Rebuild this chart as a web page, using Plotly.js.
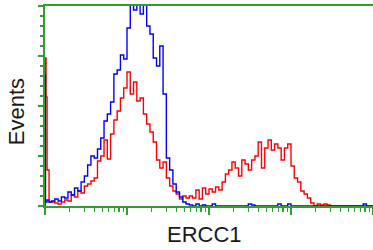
<!DOCTYPE html>
<html><head><meta charset="utf-8">
<script src="https://cdn.plot.ly/plotly-3.0.1.min.js"></script>
<style>html,body{margin:0;padding:0;background:#fff}#chart{width:373px;height:250px}</style>
</head><body><div id="chart"></div>
<script>
// Fluorescence intensity bins (log scale)
const intensity = [1.00, 1.012, 1.03, 1.06, 1.12, 1.202, 1.318, 1.445, 1.585, 1.738, 1.905, 2.089, 2.291, 2.512, 2.754, 3.020, 3.311, 3.631, 3.981, 4.365, 4.786, 5.248, 5.754, 6.310, 6.918, 7.586, 8.318, 9.120,
  10.00, 10.96, 12.02, 13.18, 14.45, 15.85, 17.38, 19.05, 20.89, 22.91, 25.12, 27.54, 30.20, 33.11, 36.31, 39.81, 43.65, 47.86, 52.48, 57.54, 63.10, 69.18, 75.86, 83.18, 91.20,
  100.0, 109.6, 120.2, 131.8, 144.5, 158.5, 173.8, 190.5, 208.9, 229.1, 251.2, 275.4, 302.0, 331.1, 363.1, 398.1, 436.5, 478.6, 524.8, 575.4, 631.0, 691.8, 758.6, 831.8, 912.0,
  1000, 1096, 1202, 1318, 1445, 1585, 1738, 1905, 2089, 2291, 2512, 2754, 3020, 3311, 3631, 3981, 4365, 4786, 5248, 5754, 6310, 6918, 7586, 8318, 9120, 10000];

// ERCC1-stained sample (red)
const sampleEvents = [0, 148, 109, 36, 4,
  4, 3, 2, 4, 6, 5, 11, 9, 15, 13, 20, 22, 25, 28, 45, 50, 66, 47, 72, 86, 95, 108, 118,
  134, 112, 124, 105, 108, 92, 82, 74, 64, 46, 38, 44, 28, 20, 15, 12, 7, 10, 8, 10, 8, 16, 7, 18, 12,
  17, 14, 19, 16, 24, 32, 36, 44, 38, 30, 46, 42, 36, 46, 50, 64, 38, 58, 66, 56, 62, 58, 46, 58, 62,
  40, 28, 24, 15, 12, 8, 3, 0, 2, 1, 2, 1, 0, 0, 0, 0, 0, 0, 0, 0, 0, 0, 0, 0, 0,
  0];

// Control (blue)
const controlEvents = [131, 4, 4, 6, 4,
  5, 7, 5, 9, 8, 14, 11, 18, 15, 24, 30, 41, 50, 48, 57, 68, 85, 92, 104, 132, 136, 151, 147,
  178, 208, 196, 214, 192, 210, 180, 172, 148, 140, 160, 112, 48, 36, 22, 14, 9, 4, 2, 1, 0, 2, 0, 1, 0,
  0, 2, 0, 0, 0, 0, 0, 0, 0, 0, 0, 0, 2, 1, 0, 0, 0, 0, 0, 0, 0, 2, 0, 0, 2,
  0, 0, 0, 0, 0, 0, 0, 0, 0, 0, 0, 0, 0, 0, 0, 0, 0, 0, 0, 0, 0, 0, 2, 0, 0,
  0];

const xTitle = 'ERCC1';
const yTitle = 'Events';
const green = 'rgb(46,160,46)';

const traces = [
  {x: intensity, y: sampleEvents, type: 'scatter', mode: 'lines', line: {shape: 'hv', color: '#ff0000', width: 1.4}, hoverinfo: 'skip'},
  {x: intensity, y: controlEvents, type: 'scatter', mode: 'lines', line: {shape: 'hv', color: '#0000ff', width: 1.4}, hoverinfo: 'skip'}
];

const layout = {
  width: 373, height: 250,
  margin: {l: 45, r: 0, t: 6, b: 44, pad: 0},
  paper_bgcolor: '#fff', plot_bgcolor: '#fff',
  showlegend: false,
  xaxis: {
    type: 'log', range: [0, 4], dtick: 1, layer: 'below traces',
    showline: true, linecolor: green, linewidth: 2, mirror: true,
    ticks: 'outside', ticklen: 7, tickwidth: 1.5, tickcolor: green,
    minor: {ticks: 'outside', ticklen: 4, tickwidth: 1.2, tickcolor: green, dtick: 'D1', showgrid: false},
    showticklabels: false, showgrid: false, zeroline: false
  },
  yaxis: {
    range: [0, 200], dtick: 50, layer: 'below traces',
    showline: true, linecolor: green, linewidth: 2,
    ticks: 'outside', ticklen: 5, tickwidth: 1.5, tickcolor: green,
    minor: {ticks: 'outside', ticklen: 3, tickwidth: 1.2, tickcolor: green, dtick: 10, showgrid: false},
    showticklabels: false, showgrid: false, zeroline: false
  },
  annotations: [
    {text: xTitle, xref: 'paper', yref: 'paper', x: 0.486, y: -0.14, xanchor: 'center', yanchor: 'middle', showarrow: false,
     font: {family: 'Liberation Sans, Arial, sans-serif', size: 22, color: '#1a1a1a'}},
    {text: yTitle, xref: 'paper', yref: 'paper', x: -0.088, y: 0.47, xanchor: 'center', yanchor: 'middle', showarrow: false, textangle: -90,
     font: {family: 'Liberation Sans, Arial, sans-serif', size: 22, color: '#1a1a1a'}}
  ]
};

Plotly.newPlot('chart', traces, layout, {staticPlot: true, displayModeBar: false});
</script>
</body></html>
